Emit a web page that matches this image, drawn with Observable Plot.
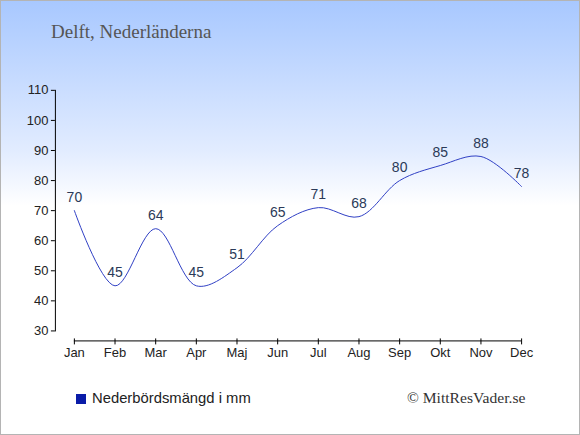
<!DOCTYPE html>
<html><head><meta charset="utf-8">
<script src="https://cdn.jsdelivr.net/npm/d3@7"></script>
<script src="https://cdn.jsdelivr.net/npm/@observablehq/plot@0.6"></script>
<style>
html,body{margin:0;padding:0;}
#box{position:relative;width:580px;height:435px;box-sizing:border-box;border:1px solid #b4b4b4;
 background:linear-gradient(to bottom,#a8c8ff 0px,#e2ecff 150px,#ffffff 205px,#ffffff 435px);overflow:hidden;}
#title{position:absolute;left:50px;top:20px;font-family:"Liberation Serif",serif;font-size:19px;color:#555;}
#chart{position:absolute;left:-1px;top:-1px;}
#legend{position:absolute;left:75px;top:389px;font-family:"Liberation Sans",Arial,sans-serif;font-size:14.8px;color:#222;}
#legend span.sw{display:inline-block;width:10px;height:10px;background:#0a1ca8;margin-right:6px;vertical-align:-1px;}
#credit{position:absolute;left:406px;top:388px;font-family:"Liberation Serif",serif;font-size:15.6px;color:#333;}
</style></head>
<body><div id="box"><div id="title">Delft, Nederländerna</div><div id="chart"></div>
<div id="legend"><span class="sw"></span>Nederbördsmängd i mm</div>
<div id="credit">© MittResVader.se</div></div>
<script>
const months = ["Jan","Feb","Mar","Apr","Maj","Jun","Jul","Aug","Sep","Okt","Nov","Dec"];
const precip = [70,45,64,45,51,65,71,68,80,85,88,78];
const yTicks = [30,40,50,60,70,80,90,100,110];
const data = months.map((m,i)=>({month:m, value:precip[i]}));

const chart = Plot.plot({
  width:580, height:380,
  marginTop:90, marginBottom:49, marginLeft:55, marginRight:58,
  style:{background:"transparent", fontFamily:"Liberation Sans, Arial, sans-serif", fontSize:"13px", color:"#222"},
  x:{type:"point", domain:months, range:[74,522], padding:0, round:false},
  y:{domain:[30,110]},
  marks:[
    Plot.frame({anchor:"left", stroke:"#000"}),
    Plot.axisY({ticks:yTicks, tickSize:4, tickPadding:3, label:null, fontSize:13, stroke:"#000", fill:"#222"}),
    Plot.ruleY([30], {x1:()=>months[0], x2:()=>months[11], dy:10, stroke:"#000"}),
    Plot.axisX({tickSize:6, tickPadding:3, dy:8, label:null, fontSize:13, stroke:"#000", fill:"#222"}),
    Plot.line(data, {x:"month", y:"value", curve:"catmull-rom", stroke:"#2f3fc4", strokeWidth:1}),
    Plot.text(data, {x:"month", y:"value", text:d=>String(d.value), dy:-13, fontSize:14, fill:"#2b3a58"})
  ]
});
document.getElementById("chart").appendChild(chart);
</script></body></html>
